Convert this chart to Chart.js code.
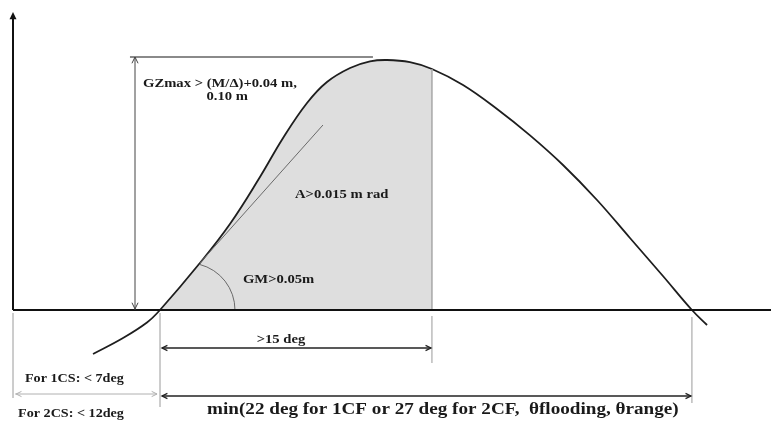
<!DOCTYPE html>
<html lang="en">
<head>
  <meta charset="UTF-8" />
  <title>GZ curve criteria</title>
  <script src="https://cdn.jsdelivr.net/npm/chart.js"></script>
  <style>
    body { margin: 0; background: #fff; }
    #wrap { width: 771px; height: 421px; position: relative; }
  </style>
</head>
<body>
  <div id="wrap"><canvas id="gzChart"></canvas></div>

  <script>
    // GZ curve: heel angle (deg) and righting lever (m)
    const angles = [3.81, 5.24, 6.38, 7.0, 8.9, 10.33, 11.76, 12.86, 14.0, 14.95, 16.05, 17.0, 17.81,
                    18.9, 19.95, 21.43, 23.05, 24.62, 26.19, 27.81, 29.38, 30.95, 32.33, 33.05];
    const gz = [-0.022, -0.014, -0.00625, 0, 0.0235, 0.043, 0.0665, 0.086, 0.1035, 0.114, 0.121, 0.1243, 0.125,
                0.1239, 0.1205, 0.1125, 0.1005, 0.0873, 0.0725, 0.055, 0.036, 0.017, 0, -0.0075];

    // key angles / levels of the diagram
    const eqAngle = 7.0;        // equilibrium heel
    const areaEnd = 19.95;      // end of >15 deg range / shaded area
    const rangeEnd = 32.33;     // end of positive range
    const gzMaxLevel = 0.1265;
    const tangentEnd = [14.76, 0.0925];

    // texts
    const gzLabel1 = 'GZmax > (M/\u0394)+0.04 m,';
    const gzLabel2 = '0.10 m';
    const areaLabel = 'A>0.015 m rad';
    const gmLabel = 'GM>0.05m';
    const rangeLabel = '>15 deg';
    const cs1Label = 'For 1CS: < 7deg';
    const cs2Label = 'For 2CS: < 12deg';
    const minLabel = 'min(22 deg for 1CF or 27 deg for 2CF,  \u03b8flooding, \u03b8range)';

    const curvePts = angles.map((a, i) => ({ x: a, y: gz[i] }));
    const shadePts = curvePts.filter(p => p.x >= eqAngle && p.x <= areaEnd);

    function arrowHead(ctx, x, y, dir, size, filled) {
      // dir: angle in radians the arrow points to
      const a1 = dir + Math.PI - 0.45, a2 = dir + Math.PI + 0.45;
      ctx.beginPath();
      ctx.moveTo(x + size * Math.cos(a1), y + size * Math.sin(a1));
      ctx.lineTo(x, y);
      ctx.lineTo(x + size * Math.cos(a2), y + size * Math.sin(a2));
      if (filled) { ctx.closePath(); ctx.fill(); } else ctx.stroke();
    }

    function line(ctx, x1, y1, x2, y2) {
      ctx.beginPath();
      ctx.moveTo(x1, y1);
      ctx.lineTo(x2, y2);
      ctx.stroke();
    }

    // the picture's lettering is a bit wider than the font, so stretch it
    function label(ctx, text, x, y, align, size) {
      ctx.save();
      ctx.translate(x, y);
      ctx.scale(1.22, 1);
      ctx.font = 'bold ' + size + 'px "Liberation Serif"';
      ctx.textAlign = align;
      ctx.textBaseline = 'middle';
      ctx.fillText(text, 0, 0);
      ctx.restore();
    }

    const diagram = {
      id: 'diagram',
      beforeDatasetsDraw(chart) {
        const ctx = chart.ctx;
        const X = v => chart.scales.x.getPixelForValue(v);
        const Y = v => chart.scales.y.getPixelForValue(v);
        ctx.save();
        // top level line of GZmax
        ctx.strokeStyle = '#8a8a8a';
        ctx.lineWidth = 2;
        line(ctx, X(5.57), Y(gzMaxLevel), X(17.14), Y(gzMaxLevel));
        ctx.restore();
      },
      afterDatasetsDraw(chart) {
        const ctx = chart.ctx;
        const X = v => chart.scales.x.getPixelForValue(v);
        const Y = v => chart.scales.y.getPixelForValue(v);
        const y0 = Y(0);
        ctx.save();

        // edge of shaded area
        ctx.strokeStyle = '#a8a8a8';
        ctx.lineWidth = 1.5;
        const edgeY = gz[angles.indexOf(areaEnd)];
        line(ctx, X(areaEnd), Y(edgeY), X(areaEnd), y0);

        // tangent line and GM arc
        ctx.strokeStyle = '#6a6a6a';
        ctx.lineWidth = 1;
        line(ctx, X(8.9), Y(0.0235), X(tangentEnd[0]), Y(tangentEnd[1]));
        const cx = X(8.33), r = X(10.57) - X(8.33);
        const start = Math.atan2(Y(0.0235) - y0, X(8.9) - cx);
        ctx.beginPath();
        ctx.arc(cx, y0, r, start, 0);
        ctx.stroke();

        // axes
        ctx.strokeStyle = '#111';
        ctx.fillStyle = '#111';
        ctx.lineWidth = 2;
        line(ctx, X(0), y0, chart.width, y0);
        line(ctx, X(0), y0, X(0), Y(0.146));
        arrowHead(ctx, X(0), Y(0.149), -Math.PI / 2, 8, true);

        // GZmax double arrow
        ctx.strokeStyle = '#444';
        ctx.lineWidth = 1;
        const ax = X(5.81);
        line(ctx, ax, Y(gzMaxLevel), ax, y0);
        arrowHead(ctx, ax, Y(gzMaxLevel), -Math.PI / 2, 7, false);
        arrowHead(ctx, ax, y0 - 1, Math.PI / 2, 7, false);

        // vertical reference ticks below axis
        ctx.strokeStyle = '#9a9a9a';
        ctx.lineWidth = 1;
        line(ctx, X(0), y0 + 3, X(0), y0 + 88);
        line(ctx, X(eqAngle), y0 + 3, X(eqAngle), y0 + 97);
        line(ctx, X(areaEnd), y0 + 6, X(areaEnd), y0 + 53);
        line(ctx, X(rangeEnd), y0 + 7, X(rangeEnd), y0 + 93);

        // >15 deg arrow
        ctx.strokeStyle = '#222';
        ctx.lineWidth = 1.3;
        const yA = y0 + 38;
        line(ctx, X(eqAngle) + 2, yA, X(areaEnd) - 1, yA);
        arrowHead(ctx, X(eqAngle) + 2, yA, Math.PI, 6, false);
        arrowHead(ctx, X(areaEnd) - 1, yA, 0, 6, false);

        // range arrow
        const yB = y0 + 86;
        line(ctx, X(eqAngle) + 2, yB, X(rangeEnd) - 1, yB);
        arrowHead(ctx, X(eqAngle) + 2, yB, Math.PI, 6, false);
        arrowHead(ctx, X(rangeEnd) - 1, yB, 0, 6, false);

        // equilibrium angle arrow (light grey)
        ctx.strokeStyle = '#b0b0b0';
        ctx.lineWidth = 1;
        const yC = y0 + 84;
        line(ctx, X(0.1), yC, X(6.86), yC);
        arrowHead(ctx, X(0.1) + 1, yC, Math.PI, 6, false);
        arrowHead(ctx, X(6.86), yC, 0, 6, false);

        // texts
        ctx.fillStyle = '#1a1a1a';
        label(ctx, gzLabel1, X(6.19), Y(gzMaxLevel) + 27, 'left', 12);
        label(ctx, gzLabel2, X(10.2), Y(gzMaxLevel) + 40, 'center', 12);
        label(ctx, areaLabel, X(13.43), Y(0.0575), 'left', 12);
        label(ctx, gmLabel, X(10.95), Y(0.015), 'left', 12);
        label(ctx, rangeLabel, X(12.76), y0 + 30, 'center', 12);
        label(ctx, cs1Label, X(0.57), y0 + 69, 'left', 11.6);
        label(ctx, cs2Label, X(0.24), y0 + 104, 'left', 11.6);
        label(ctx, minLabel, X(9.24), y0 + 100, 'left', 15.7);

        ctx.restore();
      }
    };

    const ctx = document.getElementById('gzChart').getContext('2d');
    const gzChart = new Chart(ctx, {
      type: 'line',
      data: {
        datasets: [
          {
            label: 'GZ',
            data: curvePts,
            borderColor: '#1e1e1e',
            borderWidth: 1.8,
            pointRadius: 0,
            tension: 0.4,
            fill: false,
            order: 1,
          },
          {
            label: 'Area',
            data: shadePts,
            borderWidth: 0,
            borderColor: 'rgba(0,0,0,0)',
            backgroundColor: '#dedede',
            pointRadius: 0,
            tension: 0.4,
            fill: 'origin',
            order: 2,
          },
        ],
      },
      options: {
        responsive: true,
        maintainAspectRatio: false,
        animation: false,
        layout: { padding: 0 },
        plugins: {
          legend: { display: false },
          tooltip: { enabled: false },
        },
        scales: {
          x: { type: 'linear', display: false, min: -13 / 21, max: 758 / 21 },
          y: { type: 'linear', display: false, min: -0.0555, max: 0.155 },
        },
      },
      plugins: [diagram],
    });
  </script>
</body>
</html>
